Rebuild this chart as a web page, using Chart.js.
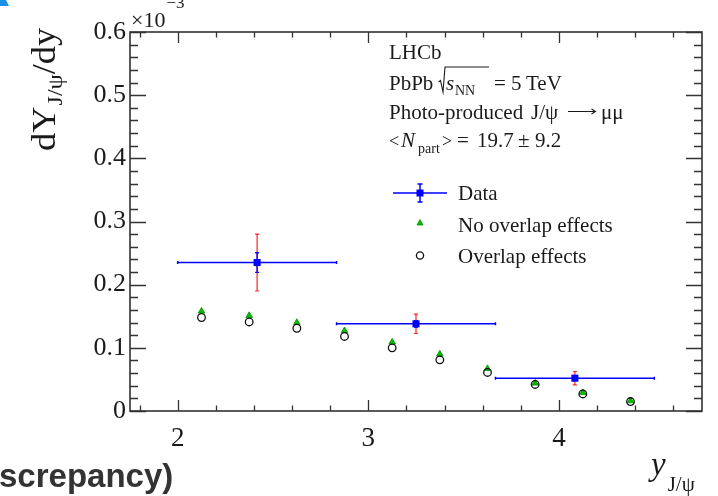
<!DOCTYPE html>
<html><head><meta charset="utf-8">
<script src="https://cdn.jsdelivr.net/npm/chart.js@4.4.1/dist/chart.umd.min.js"></script>
<style>html,body{margin:0;padding:0;background:#fff;overflow:hidden;} canvas{display:block;}</style>
</head><body>
<canvas id="c" width="718" height="496"></canvas>
<script>
// ---- data ----
const binCenters = [2.4167, 3.25, 4.0833];
const binLow     = [2.0, 2.8333, 3.6667];
const binHigh    = [2.8333, 3.6667, 4.5];
const dataY      = [0.235, 0.138, 0.052];
const statErr    = [0.0155, 0.005, 0.004];
const totErr     = [0.045, 0.0153, 0.0105];
const modelX     = [2.125, 2.375, 2.625, 2.875, 3.125, 3.375, 3.625, 3.875, 4.125, 4.375];
const noOverlap  = [0.158, 0.151, 0.140, 0.127, 0.109, 0.090, 0.067, 0.044, 0.029, 0.016];
const overlap    = [0.148, 0.141, 0.131, 0.118, 0.100, 0.081, 0.061, 0.042, 0.027, 0.015];
const xTicks     = [2, 3, 4];
const yTicks     = [0, 0.1, 0.2, 0.3, 0.4, 0.5, 0.6];

const SERIF = '"Liberation Serif","Times New Roman",serif';
const INK = '#1a1a1a';
const BLUE = '#0000ff';
const RED = '#ff2020';
const GREEN = '#00c000';

function runs(ctx, x, y, parts){
  let cx = x;
  for (const p of parts){
    if (p.x !== undefined) cx = p.x;
    ctx.font = p.f;
    ctx.fillText(p.t, cx, y + (p.dy||0));
    cx += ctx.measureText(p.t).width + (p.gap||0);
  }
  return cx;
}

const errorBars = {
  id:'errorBars',
  beforeDatasetsDraw(chart){
    const {ctx, scales:{x,y}} = chart;
    ctx.save();
    for (let i=0;i<binCenters.length;i++){
      const px = x.getPixelForValue(binCenters[i]);
      const py = y.getPixelForValue(dataY[i]);
      const t1 = y.getPixelForValue(dataY[i]+totErr[i]);
      const t2 = y.getPixelForValue(dataY[i]-totErr[i]);
      ctx.strokeStyle = RED; ctx.lineWidth = 1.2;
      ctx.beginPath();
      ctx.moveTo(px,t1); ctx.lineTo(px,t2);
      ctx.moveTo(px-2,t1); ctx.lineTo(px+2,t1);
      ctx.moveTo(px-2,t2); ctx.lineTo(px+2,t2);
      ctx.stroke();
      const s1 = y.getPixelForValue(dataY[i]+statErr[i]);
      const s2 = y.getPixelForValue(dataY[i]-statErr[i]);
      ctx.strokeStyle = BLUE; ctx.lineWidth = 1.3;
      ctx.beginPath();
      ctx.moveTo(px,s1); ctx.lineTo(px,s2);
      ctx.moveTo(px-2,s1); ctx.lineTo(px+2,s1);
      ctx.moveTo(px-2,s2); ctx.lineTo(px+2,s2);
      ctx.stroke();
      const l = x.getPixelForValue(binLow[i]);
      const r = x.getPixelForValue(binHigh[i]);
      ctx.lineWidth = 1.5;
      ctx.beginPath();
      ctx.moveTo(l,py); ctx.lineTo(r,py);
      ctx.moveTo(l,py-1.5); ctx.lineTo(l,py+1.5);
      ctx.moveTo(r,py-1.5); ctx.lineTo(r,py+1.5);
      ctx.stroke();
    }
    ctx.restore();
  }
};

const frame = {
  id:'frame',
  afterDatasetsDraw(chart){
    const {ctx, chartArea:a, scales:{x,y}} = chart;
    ctx.save();
    ctx.strokeStyle = '#333'; ctx.lineWidth = 1.3;
    ctx.beginPath();
    for (let k=9;k<=23;k++){
      const v = k*0.2; const px = Math.round(x.getPixelForValue(v))+0.5;
      const L = (k%5===0) ? 11 : 5.5;
      ctx.moveTo(px,a.bottom); ctx.lineTo(px,a.bottom-L);
      ctx.moveTo(px,a.top); ctx.lineTo(px,a.top+L);
    }
    for (let k=0;k<=30;k++){
      const v = k*0.02; const py = Math.round(y.getPixelForValue(v))+0.5;
      const L = (k%5===0) ? 16 : 8;
      ctx.moveTo(a.left,py); ctx.lineTo(a.left+L,py);
      ctx.moveTo(a.right,py); ctx.lineTo(a.right-L,py);
    }
    ctx.stroke();
    ctx.lineWidth = 1.6;
    ctx.strokeRect(a.left, a.top, a.right-a.left, a.bottom-a.top);
    ctx.restore();
  }
};

const texts = {
  id:'texts',
  afterDraw(chart){
    const ctx = chart.ctx;
    ctx.save();
    ctx.fillStyle = INK; ctx.textBaseline = 'alphabetic'; ctx.textAlign = 'left';
    // x10^-3 (exponent partly cut by the top edge, as in the reference)
    runs(ctx, 131, 27, [{t:'\u00d710', f:'22px '+SERIF, gap:1},{t:'\u22123', f:'17px '+SERIF, dy:-19}]);
    const F = '21px '+SERIF, FI = 'italic 21px '+SERIF, FS = '14px '+SERIF, FA = '18px '+SERIF;
    runs(ctx, 389, 59, [{t:'LHCb', f:F}]);
    // PbPb sqrt(s_NN) = 5 TeV
    runs(ctx, 389, 90, [{t:'PbPb', f:F},{t:'s', f:FI, x:446},{t:'NN', f:FS, dy:5, x:455},
      {t:'=', f:F, x:494},{t:'5', f:F, x:511},{t:'TeV', f:F, x:526}]);
    ctx.strokeStyle = INK; ctx.lineWidth = 1.1;
    ctx.beginPath();
    ctx.moveTo(438.5,82); ctx.lineTo(440.5,80.5); ctx.lineTo(443,92); ctx.lineTo(445,67); ctx.lineTo(489,67);
    ctx.stroke();
    // Photo-produced J/psi -> mu mu
    runs(ctx, 389, 118.5, [{t:'Photo-produced', f:F},{t:'J/\u03c8', f:F, x:531},{t:'\u03bc\u03bc', f:F, x:601}]);
    ctx.lineWidth = 1.1;
    ctx.beginPath();
    ctx.moveTo(568,111.5); ctx.lineTo(595,111.5);
    ctx.moveTo(591.5,109); ctx.lineTo(595.5,111.5); ctx.lineTo(591.5,114);
    ctx.stroke();
    // <N_part> = 19.7 +- 9.2
    runs(ctx, 389, 147, [{t:'<', f:FA, x:389},{t:'N', f:FI, x:401},{t:'part', f:FS, dy:6, x:418},{t:'>', f:FA, x:442},
      {t:'=', f:F, x:457},{t:'19.7', f:F, x:477},{t:'\u00b1', f:F, x:518},{t:'9.2', f:F, x:535}]);
    // legend
    runs(ctx, 458, 200, [{t:'Data', f:F}]);
    runs(ctx, 458, 231.5, [{t:'No overlap effects', f:F}]);
    runs(ctx, 458, 262.5, [{t:'Overlap effects', f:F}]);
    ctx.strokeStyle = BLUE; ctx.lineWidth = 1.5;
    ctx.beginPath();
    ctx.moveTo(393,193); ctx.lineTo(447,193);
    ctx.moveTo(420,184); ctx.lineTo(420,202);
    ctx.moveTo(417.5,184); ctx.lineTo(422.5,184);
    ctx.moveTo(417.5,202); ctx.lineTo(422.5,202);
    ctx.stroke();
    ctx.fillStyle = BLUE; ctx.fillRect(416.5,189.5,7,7);
    ctx.fillStyle = GREEN; ctx.strokeStyle = '#009000'; ctx.lineWidth = 0.8;
    ctx.beginPath(); ctx.moveTo(420,219.5); ctx.lineTo(423,225); ctx.lineTo(417,225); ctx.closePath(); ctx.fill(); ctx.stroke();
    ctx.strokeStyle = '#111'; ctx.lineWidth = 1.3;
    ctx.beginPath(); ctx.arc(420,255.5,3.6,0,Math.PI*2); ctx.stroke();
    // y title (rotated)
    ctx.fillStyle = INK;
    ctx.save();
    ctx.translate(55, 151); ctx.rotate(-Math.PI/2);
    ctx.scale(1.1,1);
    runs(ctx, 0, 0, [{t:'dY', f:'33px '+SERIF, gap:1},{t:'J/\u03c8', f:'22px '+SERIF, dy:7},{t:'/dy', f:'33px '+SERIF}]);
    ctx.restore();
    // x title
    runs(ctx, 651, 475, [{t:'y', f:'italic 33px '+SERIF, gap:2},{t:'J/\u03c8', f:'21px '+SERIF, dy:16}]);
    // slide artefacts around the cropped figure
    ctx.fillStyle = '#1a8fe6';
    ctx.beginPath(); ctx.moveTo(0,0); ctx.lineTo(6,0); ctx.lineTo(9,6); ctx.lineTo(0,6); ctx.closePath(); ctx.fill();
    ctx.fillStyle = '#333333';
    ctx.font = 'bold 33px "Liberation Sans",Arial,sans-serif';
    ctx.fillText('screpancy)', -1, 487);
    ctx.restore();
  }
};

new Chart(document.getElementById('c'), {
  type:'scatter',
  data:{
    datasets:[
      { label:'Data', data: binCenters.map((v,i)=>({x:v,y:dataY[i]})), pointStyle:'rect', pointRadius:5,
        backgroundColor:BLUE, borderColor:BLUE, borderWidth:0, order:0 },
      { label:'Overlap effects', data: modelX.map((v,i)=>({x:v,y:overlap[i]})), pointStyle:'circle', pointRadius:3.8,
        backgroundColor:'rgba(0,0,0,0)', borderColor:'#111', borderWidth:1.3, order:1 },
      { label:'No overlap effects', data: modelX.map((v,i)=>({x:v,y:noOverlap[i]})), pointStyle:'triangle', pointRadius:3.8,
        backgroundColor:GREEN, borderColor:'#009000', borderWidth:0.8, order:2 }
    ]
  },
  options:{
    responsive:false, animation:false, devicePixelRatio:1,
    layout:{padding:{top:32, right:16, left:0, bottom:0}},
    plugins:{legend:{display:false}, tooltip:{enabled:false}, title:{display:false}},
    scales:{
      x:{ type:'linear', min:1.75, max:4.75,
        afterBuildTicks(s){ s.ticks = xTicks.map(v=>({value:v})); },
        afterFit(s){ s.height = 85; },
        grid:{display:false, drawTicks:false}, border:{display:false},
        ticks:{ padding:12, color:INK, font:{family:SERIF, size:27}, maxRotation:0, callback:v=>String(v) } },
      y:{ type:'linear', min:0, max:0.6,
        afterBuildTicks(s){ s.ticks = yTicks.map(v=>({value:v})); },
        afterFit(s){ s.width = 130; },
        grid:{display:false, drawTicks:false}, border:{display:false},
        ticks:{ padding:4, color:INK, font:{family:SERIF, size:26}, callback:v=> v===0 ? '0' : Number(v).toFixed(1) } }
    }
  },
  plugins:[errorBars, frame, texts]
});
</script>
</body></html>
